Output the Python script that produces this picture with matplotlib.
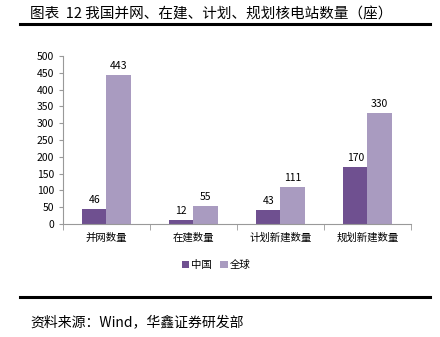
import matplotlib
matplotlib.use("Agg")
import matplotlib.pyplot as plt
import numpy as np

plt.rcParams['font.family'] = ['Noto Sans CJK SC', 'DejaVu Sans']

# ------------------- Data -------------------
categories = ['并网数量', '在建数量', '计划新建数量', '规划新建数量']
china = [46, 12, 43, 170]
world = [443, 55, 111, 330]
series_names = ['中国', '全球']
c_china = '#6F5090'
c_world = '#A99BC0'

# ------------------- Figure -------------------
fig = plt.figure(figsize=(4.4, 3.37), dpi=100)
ax = fig.add_axes([0.143, 0.335, 0.791, 0.499])

x = np.arange(len(categories))
w = 0.28
b1 = ax.bar(x - w / 2, china, w, color=c_china, label=series_names[0])
b2 = ax.bar(x + w / 2, world, w, color=c_world, label=series_names[1])

for bars in (b1, b2):
    for b in bars:
        ax.text(b.get_x() + b.get_width() / 2, b.get_height() + 12,
                f'{int(b.get_height())}', ha='center', va='bottom', fontsize=7.5)

ax.set_xlim(-0.5, len(categories) - 0.5)
ax.set_ylim(0, 500)
ax.set_yticks(range(0, 501, 50))
ax.set_xticks(x)
ax.set_xticklabels(categories, fontsize=7.5)
ax.set_xticks(np.arange(-0.5, len(categories), 1), minor=True)
ax.tick_params(axis='x', which='major', length=0, pad=6)
ax.tick_params(axis='x', which='minor', length=4, color='#999999', direction='out')
ax.tick_params(axis='y', labelsize=7.5, length=3, color='#999999')

for s in ('top', 'right'):
    ax.spines[s].set_visible(False)
ax.spines['left'].set_color('#999999')
ax.spines['bottom'].set_color('#999999')

ax.legend(loc='upper center', bbox_to_anchor=(0.44, -0.16), ncol=2, frameon=False,
          fontsize=7.5, handlelength=0.7, handleheight=0.7, handletextpad=0.2,
          columnspacing=0.8)

# ------------------- Title / source -------------------
fig.text(0.068, 0.958, '图表  12 我国并网、在建、计划、规划核电站数量（座）',
         fontsize=10.5, va='center', ha='left')
fig.add_artist(plt.Line2D([0.045, 0.977], [0.928, 0.928], color='black', lw=2.2))
fig.add_artist(plt.Line2D([0.045, 0.977], [0.118, 0.118], color='black', lw=2.2))
fig.text(0.068, 0.045, '资料来源：Wind，华鑫证券研发部', fontsize=10, va='center', ha='left')

fig.savefig('out.png', dpi=100)
